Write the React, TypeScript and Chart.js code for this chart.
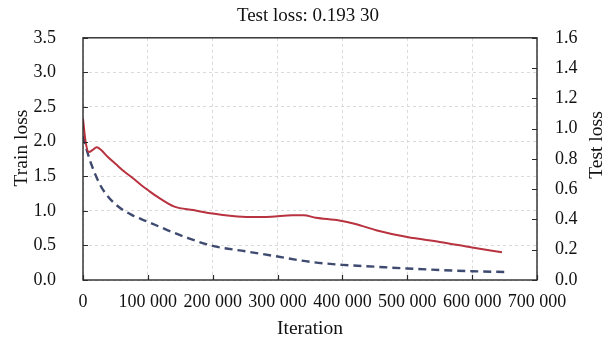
import React, { useEffect, useRef } from 'react';
import { Chart, registerables } from 'chart.js';

Chart.register(...registerables);

// ---- data ----
const trainIter = [0, 4000, 9000, 15000, 21000, 28000, 38000, 50000, 64500, 77000, 90000, 100000, 115000, 141000, 170000, 200000, 230000, 257000, 290000, 323000, 340000, 359000, 395000, 420000, 452000, 500000, 550000, 600000, 646000];
const trainLoss = [2.33, 2.0, 1.85, 1.88, 1.92, 1.88, 1.78, 1.68, 1.56, 1.47, 1.37, 1.3, 1.2, 1.06, 1.01, 0.96, 0.925, 0.91, 0.915, 0.935, 0.935, 0.9, 0.86, 0.81, 0.72, 0.62, 0.55, 0.47, 0.4];

const testIter = [0, 5000, 10000, 15000, 25000, 35000, 50000, 75000, 100000, 130000, 160000, 200000, 250000, 300000, 350000, 400000, 450000, 500000, 550000, 600000, 650000];
const testLoss = [0.95, 0.87, 0.8, 0.74, 0.64, 0.57, 0.5, 0.43, 0.385, 0.33, 0.28, 0.225, 0.19, 0.155, 0.12, 0.1, 0.088, 0.076, 0.066, 0.058, 0.053];

const xMax = 700000;
const xStep = 100000;
const yLeftMax = 3.5;
const yLeftStep = 0.5;
const yRightMax = 1.6;
const yRightStep = 0.2;

const chartTitle = 'Test loss: 0.193 30';
const xTitle = 'Iteration';
const yLeftTitle = 'Train loss';
const yRightTitle = 'Test loss';

const FONT = '"Liberation Serif", "Times New Roman", serif';

const fmtThousands = (v: number) =>
  Math.round(v).toString().replace(/\B(?=(\d{3})+(?!\d))/g, ' ');

const framePlugin = {
  id: 'frame',
  afterDraw(chart: any) {
    const { ctx, chartArea, scales } = chart;
    const { left, right, top, bottom } = chartArea;
    ctx.save();
    ctx.strokeStyle = '#2b2b2b';
    ctx.lineWidth = 1.4;
    ctx.strokeRect(left, top, right - left, bottom - top);
    ctx.beginPath();
    scales.y.ticks.forEach((t: any) => {
      const y = Math.round(scales.y.getPixelForValue(t.value)) + 0.5;
      ctx.moveTo(left, y);
      ctx.lineTo(left + 5, y);
    });
    scales.y1.ticks.forEach((t: any) => {
      const y = Math.round(scales.y1.getPixelForValue(t.value)) + 0.5;
      ctx.moveTo(right, y);
      ctx.lineTo(right - 5, y);
    });
    scales.x.ticks.forEach((t: any) => {
      const x = Math.round(scales.x.getPixelForValue(t.value)) + 0.5;
      ctx.moveTo(x, bottom);
      ctx.lineTo(x, bottom - 5);
    });
    ctx.lineWidth = 1.2;
    ctx.stroke();

    ctx.fillStyle = '#111';
    ctx.font = `19.5px ${FONT}`;
    ctx.textAlign = 'center';
    ctx.textBaseline = 'middle';
    ctx.save();
    ctx.translate(22, 148);
    ctx.rotate(-Math.PI / 2);
    ctx.fillText(yLeftTitle, 0, 0);
    ctx.restore();
    ctx.save();
    ctx.translate(597, 145);
    ctx.rotate(-Math.PI / 2);
    ctx.fillText(yRightTitle, 0, 0);
    ctx.restore();
    ctx.restore();
  },
};

export default function App() {
  const canvasRef = useRef<HTMLCanvasElement | null>(null);

  useEffect(() => {
    const canvas = canvasRef.current;
    if (!canvas) return;
    const chart = new Chart(canvas, {
      type: 'line',
      data: {
        datasets: [
          {
            label: 'Train loss',
            data: trainIter.map((x, i) => ({ x, y: trainLoss[i] })),
            borderColor: '#b8323f',
            borderWidth: 2,
            pointRadius: 0,
            cubicInterpolationMode: 'monotone',
            yAxisID: 'y',
            fill: false,
          },
          {
            label: 'Test loss',
            data: testIter.map((x, i) => ({ x, y: testLoss[i] })),
            borderColor: '#3e4a70',
            borderWidth: 2.4,
            borderDash: [8, 5],
            pointRadius: 0,
            cubicInterpolationMode: 'monotone',
            yAxisID: 'y1',
            fill: false,
          },
        ],
      },
      options: {
        animation: false,
        responsive: false,
        maintainAspectRatio: false,
        layout: { padding: 0 },
        plugins: {
          legend: { display: false },
          tooltip: { enabled: false },
          title: {
            display: true,
            text: chartTitle,
            color: '#111',
            font: { family: FONT, size: 19, weight: 'normal' },
            padding: { top: 3.5, bottom: 10.7 },
          },
        },
        scales: {
          x: {
            type: 'linear',
            min: 0,
            max: xMax,
            afterFit: (s: any) => {
              s.height = 67;
            },
            ticks: {
              stepSize: xStep,
              padding: 11,
              color: '#111',
              font: { family: FONT, size: 18 },
              maxRotation: 0,
              autoSkip: false,
              callback: (v: any) => fmtThousands(Number(v)),
            },
            grid: { color: '#dadada', drawTicks: false, lineWidth: 1 },
            border: { display: false, dash: [3, 3] },
            title: {
              display: true,
              text: xTitle,
              color: '#111',
              font: { family: FONT, size: 19.5 },
              padding: { top: 0, bottom: 6 },
            },
          },
          y: {
            type: 'linear',
            position: 'left',
            min: 0,
            max: yLeftMax,
            afterFit: (s: any) => {
              s.width = 83;
            },
            ticks: {
              stepSize: yLeftStep,
              padding: 27,
              color: '#111',
              font: { family: FONT, size: 18 },
              callback: (v: any) => Number(v).toFixed(1),
            },
            grid: { color: '#dadada', drawTicks: false, lineWidth: 1 },
            border: { display: false, dash: [3, 3] },
          },
          y1: {
            type: 'linear',
            position: 'right',
            min: 0,
            max: yRightMax,
            afterFit: (s: any) => {
              s.width = 79;
            },
            ticks: {
              stepSize: yRightStep,
              padding: 18,
              color: '#111',
              font: { family: FONT, size: 18 },
              callback: (v: any) => Number(v).toFixed(1),
            },
            grid: { display: false, drawTicks: false },
            border: { display: false },
          },
        },
      },
      plugins: [framePlugin],
    } as any);
    return () => chart.destroy();
  }, []);

  return (
    <div style={{ position: 'fixed', left: 0, top: 0, width: 616, height: 347, background: '#fff' }}>
      <canvas ref={canvasRef} width={616} height={347} style={{ width: 616, height: 347, display: 'block' }} />
    </div>
  );
}
